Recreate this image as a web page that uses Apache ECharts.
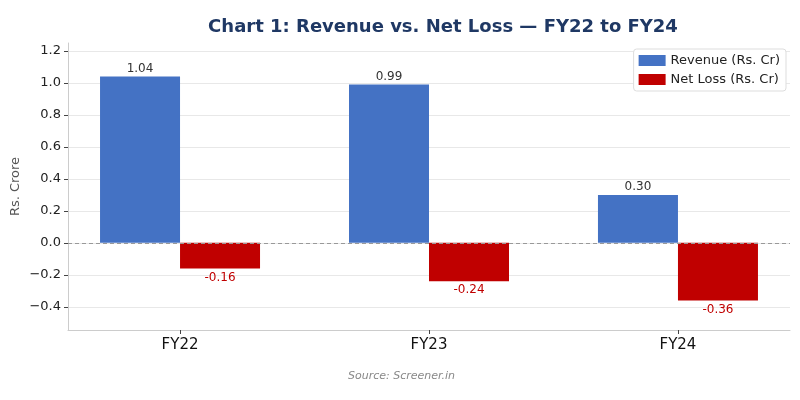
<!DOCTYPE html>
<html>
<head>
<meta charset="utf-8">
<script src="https://cdn.jsdelivr.net/npm/echarts@6/dist/echarts.min.js"></script>
<style>html,body{margin:0;padding:0;background:#fff}#c{width:800px;height:400px}</style>
</head>
<body>
<div id="c"></div>
<script>
const categories = ['FY22', 'FY23', 'FY24'];
const revenue = [1.04, 0.99, 0.30];
const netLoss = [-0.16, -0.24, -0.36];
const yTicks = [-0.4, -0.2, 0.0, 0.2, 0.4, 0.6, 0.8, 1.0, 1.2];
const catPos = [0, 1, 2];

const font = 'DejaVu Sans';
const chart = echarts.init(document.getElementById('c'), null, {renderer: 'canvas'});
chart.setOption({
  animation: false,
  backgroundColor: '#fff',
  textStyle: {fontFamily: font},
  title: {
    text: 'Chart 1: Revenue vs. Net Loss \u2014 FY22 to FY24',
    left: 438, top: 13, textAlign: 'center',
    textStyle: {fontFamily: font, fontSize: 18, fontWeight: 'bold', color: '#1f3864'}
  },
  legend: {
    orient: 'vertical', right: 14, top: 49,
    itemWidth: 27, itemHeight: 11, itemGap: 6,
    padding: [5, 6, 5, 5],
    borderColor: '#dddddd', borderWidth: 1, borderRadius: 3,
    backgroundColor: '#fff',
    icon: 'rect',
    textStyle: {fontFamily: font, fontSize: 13, color: '#222'},
    data: ['Revenue (Rs. Cr)', 'Net Loss (Rs. Cr)']
  },
  grid: {left: 68, right: 10, top: 43, bottom: 70, containLabel: false, outerBoundsMode: 'none'},
  xAxis: {
    type: 'value', min: -0.45, max: 2.45,
    axisLine: {show: true, onZero: false, lineStyle: {color: '#cccccc', width: 1}},
    axisTick: {show: true, customValues: catPos, length: 4, lineStyle: {color: '#444'}},
    axisLabel: {customValues: catPos, formatter: v => categories[Math.round(v)] || '',
      fontFamily: font, fontSize: 15, color: '#111', margin: 8},
    splitLine: {show: false}
  },
  yAxis: {
    type: 'value', min: -0.545, max: 1.25,
    name: 'Rs. Crore', nameLocation: 'middle', nameGap: 46, nameRotate: 90,
    nameMoveOverlap: false,
    nameTextStyle: {fontFamily: font, fontSize: 13, color: '#555'},
    axisLine: {show: true, onZero: false, lineStyle: {color: '#cccccc', width: 1}},
    axisTick: {show: true, customValues: yTicks, length: 4, lineStyle: {color: '#444'}},
    axisLabel: {customValues: yTicks, formatter: v => v.toFixed(1).replace('-', '\u2212'),
      fontFamily: font, fontSize: 13, color: '#222', margin: 7},
    splitLine: {show: true, lineStyle: {color: '#e8e8e8', width: 1}}
  },
  series: [
    {
      name: 'Revenue (Rs. Cr)', type: 'bar', barWidth: 80, barGap: '0%',
      itemStyle: {color: '#4472c4'},
      data: catPos.map((p, i) => [p, revenue[i]]),
      label: {show: true, position: 'top', distance: 2, formatter: p => p.value[1].toFixed(2),
        fontFamily: font, fontSize: 12, color: '#333'},
      markLine: {
        silent: true, symbol: 'none', label: {show: false},
        lineStyle: {color: '#999', type: [4, 3], width: 1},
        data: [{yAxis: 0}]
      }
    },
    {
      name: 'Net Loss (Rs. Cr)', type: 'bar', barWidth: 80, barGap: '0%',
      itemStyle: {color: '#c00000'},
      data: catPos.map((p, i) => [p, netLoss[i]]),
      label: {show: true, position: 'bottom', distance: 3, formatter: p => p.value[1].toFixed(2),
        fontFamily: font, fontSize: 12, color: '#c00000'}
    }
  ],
  graphic: [{
    type: 'text', left: 348, top: 371,
    style: {text: 'Source: Screener.in', font: 'italic 11px "DejaVu Sans"', fill: '#888'}
  }]
});
</script>
</body>
</html>
